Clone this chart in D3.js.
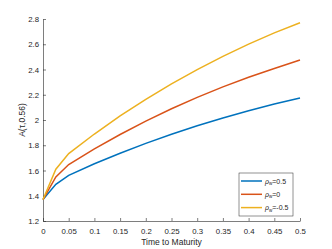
<!DOCTYPE html>
<html>
<head>
<meta charset="utf-8">
<script src="https://cdn.jsdelivr.net/npm/d3@7"></script>
<style>
  body { margin: 0; background: #fff; }
  text { font-family: "Liberation Sans", Arial, sans-serif; fill: #262626; }
</style>
</head>
<body>
<div id="chart"></div>
<script>
// time grid (years) and the three A(tau, 0.56) curves
var tau = [0, 0.025, 0.05, 0.1, 0.15, 0.2, 0.25, 0.3, 0.35, 0.4, 0.45, 0.5];
var rhoPos = [1.37, 1.49, 1.562, 1.653, 1.737, 1.815, 1.887, 1.954, 2.016, 2.073, 2.126, 2.175];
var rhoZero = [1.37, 1.549, 1.647, 1.771, 1.885, 1.991, 2.089, 2.179, 2.262, 2.338, 2.408, 2.475];
var rhoNeg = [1.37, 1.61, 1.734, 1.889, 2.032, 2.164, 2.286, 2.399, 2.504, 2.601, 2.69, 2.77];
var seriesNames = ["0.5", "0", "-0.5"];
var colors = ["#0072BD", "#D95319", "#EDB120"];
var xTicks = [0, 0.05, 0.1, 0.15, 0.2, 0.25, 0.3, 0.35, 0.4, 0.45, 0.5];
var yTicks = [1.2, 1.4, 1.6, 1.8, 2, 2.2, 2.4, 2.6, 2.8];

var W = 332, H = 249;
var margin = { top: 19, right: 32, bottom: 28, left: 43 };
var width = W - margin.left - margin.right;
var height = H - margin.top - margin.bottom;

var svg = d3.select("#chart").append("svg")
  .attr("width", W)
  .attr("height", H);

var g = svg.append("g")
  .attr("transform", "translate(" + margin.left + "," + margin.top + ")");

var xScale = d3.scaleLinear().domain([0, 0.5]).range([0, width]);
var yScale = d3.scaleLinear().domain([1.2, 2.8]).range([height, 0]);

// axes, ticks pointing inward like matlab
var xAxis = d3.axisBottom(xScale).tickValues(xTicks).tickSizeInner(-3).tickSizeOuter(0)
  .tickPadding(7).tickFormat(d3.format("~g"));
var yAxis = d3.axisLeft(yScale).tickValues(yTicks).tickSizeInner(-3).tickSizeOuter(0)
  .tickPadding(4).tickFormat(d3.format("~g"));

var gx = g.append("g").attr("transform", "translate(0," + height + ")").call(xAxis);
var gy = g.append("g").call(yAxis);
[gx, gy].forEach(function(a) {
  a.select(".domain").attr("stroke", "#262626").attr("stroke-width", 0.6);
  a.selectAll(".tick line").attr("stroke", "#262626").attr("stroke-width", 0.6);
  a.selectAll(".tick text").attr("font-size", 7.8).attr("fill", "#333");
});

// curves
var line = d3.line()
  .x(function(d) { return xScale(d[0]); })
  .y(function(d) { return yScale(d[1]); });

[rhoPos, rhoZero, rhoNeg].forEach(function(vals, i) {
  g.append("path")
    .datum(vals.map(function(v, j) { return [tau[j], v]; }))
    .attr("fill", "none")
    .attr("stroke", colors[i])
    .attr("stroke-width", 1.5)
    .attr("d", line);
});

// axis labels
g.append("text")
  .attr("x", width / 2)
  .attr("y", height + 24)
  .attr("text-anchor", "middle")
  .attr("font-size", 8.5)
  .text("Time to Maturity");

g.append("text")
  .attr("transform", "translate(-18," + (height / 2) + ") rotate(-90)")
  .attr("text-anchor", "middle")
  .attr("font-size", 8.5)
  .text("A(\u03c4,0.56)");

// legend
var lg = g.append("g").attr("transform", "translate(" + (width - 61) + "," + (height - 48) + ")");
lg.append("rect")
  .attr("width", 54).attr("height", 43)
  .attr("fill", "#fff").attr("stroke", "#262626").attr("stroke-width", 0.5);

seriesNames.forEach(function(name, i) {
  var yy = 8 + i * 13.3;
  lg.append("line")
    .attr("x1", 2).attr("x2", 23).attr("y1", yy).attr("y2", yy)
    .attr("stroke", colors[i]).attr("stroke-width", 1.5);
  var t = lg.append("text").attr("x", 26).attr("y", yy + 2.5).attr("font-size", 7);
  t.append("tspan").attr("font-style", "italic").text("\u03c1");
  t.append("tspan").attr("dy", 1.5).attr("font-size", 4.5).text("w");
  t.append("tspan").attr("dy", -1.5).text("=" + name);
});
</script>
</body>
</html>
